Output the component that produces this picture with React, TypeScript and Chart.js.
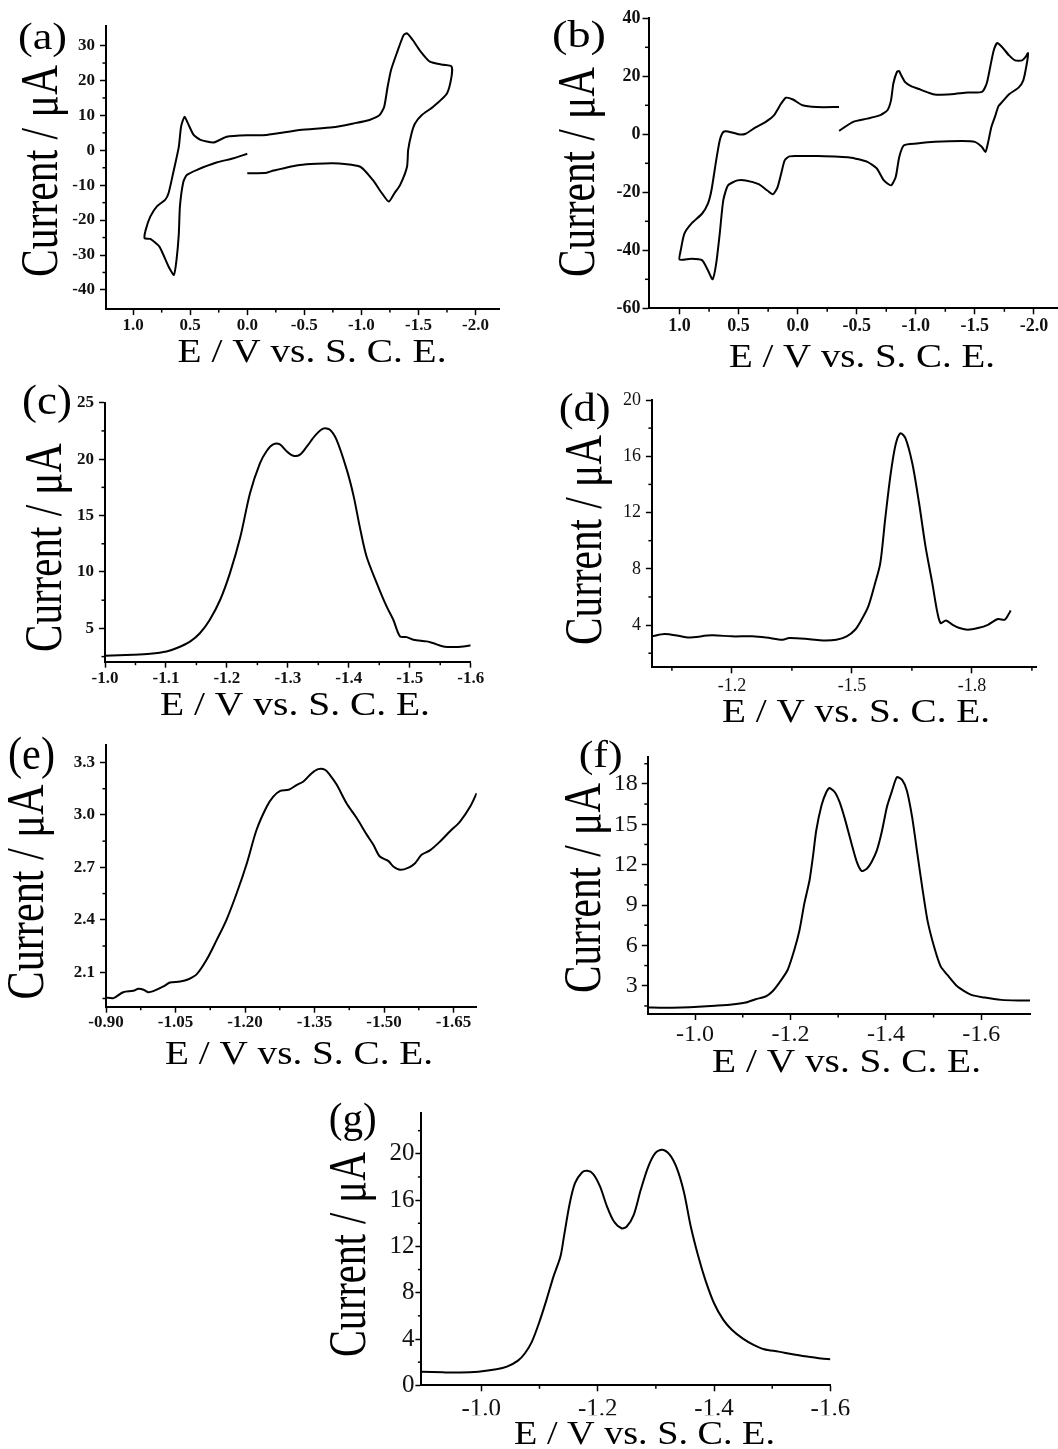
import React, { useEffect, useRef } from "react";
import { Chart, registerables } from "chart.js";

Chart.register(...registerables);

const SERIF = '"Liberation Serif", "Times New Roman", Times, serif';

// ---------- (a) cyclic voltammogram ----------
const cvA_E = [0.0, 0.12, 0.27, 0.44, 0.53, 0.56, 0.59, 0.60, 0.62, 0.643, 0.69, 0.77, 0.85, 0.90, 0.89, 0.85, 0.79, 0.72, 0.69, 0.65, 0.60, 0.58, 0.55, 0.52, 0.47, 0.41, 0.30, 0.24, 0.18, 0.0, -0.17, -0.46, -0.75, -0.93, -1.07, -1.16, -1.20, -1.23, -1.26, -1.31, -1.37, -1.40, -1.45, -1.51, -1.60, -1.72, -1.79, -1.79, -1.75, -1.63, -1.53, -1.47, -1.44, -1.41, -1.40, -1.34, -1.29, -1.24, -1.18, -1.10, -0.99, -0.75, -0.46, -0.23, -0.17, 0.0];
const cvA_I = [-1.0, -2.3, -3.5, -5.6, -7.1, -9.0, -16, -24, -31.4, -35.7, -33.3, -27.6, -25.4, -25.2, -22.8, -19, -16, -14.2, -12.3, -6.6, 1.0, 6.8, 9.6, 7.7, 4.4, 3.0, 2.2, 3.0, 3.9, 4.3, 4.4, 5.8, 6.6, 7.7, 8.7, 10.1, 12.5, 18.2, 23, 27.8, 33, 33.5, 31.6, 28.7, 25.4, 24.5, 24, 21.1, 16.3, 12.5, 10.1, 7.7, 4.9, 0.1, -4.7, -9.9, -12.3, -14.7, -12.3, -8.5, -4.7, -3.7, -4.2, -5.8, -6.4, -6.6];
const ticksA_x = [1.0, 0.5, 0.0, -0.5, -1.0, -1.5, -2.0];
const ticksA_y = [30, 20, 10, 0, -10, -20, -30, -40];

// ---------- (b) cyclic voltammogram ----------
const cvB_E = [-0.351, -0.47, -0.59, -0.70, -0.76, -0.79, -0.81, -0.84, -0.86, -0.87, -0.91, -0.96, -1.04, -1.16, -1.30, -1.44, -1.56, -1.60, -1.63, -1.66, -1.69, -1.73, -1.79, -1.84, -1.90, -1.93, -1.95, -1.94, -1.91, -1.87, -1.79, -1.73, -1.70, -1.67, -1.64, -1.61, -1.59, -1.56, -1.50, -1.39, -1.16, -1.01, -0.90, -0.86, -0.83, -0.79, -0.73, -0.67, -0.59, -0.44, -0.16, -0.01, 0.07, 0.11, 0.14, 0.17, 0.21, 0.26, 0.33, 0.44, 0.51, 0.59, 0.63, 0.66, 0.69, 0.72, 0.76, 0.81, 0.90, 1.00, 0.99, 0.96, 0.90, 0.81, 0.76, 0.73, 0.69, 0.66, 0.63, 0.59, 0.50, 0.44, 0.36, 0.27, 0.20, 0.14, 0.10, 0.04, -0.04, -0.16, -0.35];
const cvB_I = [1.2, 4.3, 5.4, 6.6, 8.3, 11.7, 17.5, 21.5, 21.8, 20.9, 18.0, 16.6, 15.4, 13.7, 13.8, 14.4, 14.6, 17.5, 23.2, 29.0, 31.5, 30.1, 27.2, 25.5, 25.5, 26.7, 28.0, 24.4, 18.6, 16.1, 13.8, 11.1, 9.7, 6.0, 2.5, -3.2, -6.1, -4.4, -2.6, -2.3, -2.6, -3.2, -3.8, -7.8, -14.7, -17.6, -15.9, -11.8, -9.5, -8.0, -7.5, -7.5, -7.6, -9.0, -13.6, -18.2, -20.7, -19.3, -17.2, -15.9, -15.9, -17.6, -22.8, -34.3, -44.6, -50.0, -46.9, -43.4, -42.9, -43.2, -40.0, -34.3, -30.8, -27.4, -23.9, -19.3, -9.0, -2.1, 0.8, 1.0, 0.0, 0.2, 2.3, 4.3, 6.6, 10.6, 12.6, 12.0, 10.0, 9.4, 9.4];
const ticksB_x = [1.0, 0.5, 0.0, -0.5, -1.0, -1.5, -2.0];
const ticksB_y = [40, 20, 0, -20, -40, -60];

// ---------- (c) differential pulse voltammogram ----------
const dpC_E = [-1.0, -1.046, -1.074, -1.101, -1.118, -1.14, -1.156, -1.172, -1.189, -1.205, -1.222, -1.238, -1.254, -1.265, -1.276, -1.287, -1.298, -1.309, -1.32, -1.331, -1.345, -1.358, -1.369, -1.38, -1.397, -1.408, -1.418, -1.429, -1.446, -1.462, -1.473, -1.484, -1.495, -1.506, -1.528, -1.538, -1.555, -1.572, -1.588, -1.6];
const dpC_I = [2.58, 2.67, 2.76, 2.96, 3.26, 3.85, 4.59, 5.77, 7.54, 9.9, 13.1, 17.0, 19.6, 20.7, 21.3, 21.3, 20.7, 20.3, 20.4, 21.1, 22.1, 22.7, 22.6, 21.7, 19.0, 16.7, 14.0, 11.4, 9.0, 6.95, 5.77, 4.3, 4.23, 4.0, 3.85, 3.7, 3.4, 3.35, 3.4, 3.5];
const ticksC_x = [-1.0, -1.1, -1.2, -1.3, -1.4, -1.5, -1.6];
const ticksC_y = [5, 10, 15, 20, 25];

// ---------- (d) differential pulse voltammogram ----------
const dpD_E = [-1.0, -1.032, -1.066, -1.091, -1.150, -1.200, -1.251, -1.285, -1.327, -1.343, -1.394, -1.428, -1.461, -1.487, -1.508, -1.524, -1.541, -1.558, -1.571, -1.583, -1.596, -1.609, -1.621, -1.634, -1.651, -1.668, -1.684, -1.701, -1.714, -1.722, -1.735, -1.752, -1.769, -1.790, -1.815, -1.840, -1.865, -1.882, -1.891, -1.897];
const dpD_I = [3.2, 3.36, 3.24, 3.12, 3.27, 3.2, 3.2, 3.12, 2.96, 3.08, 3.0, 2.91, 2.96, 3.2, 3.67, 4.38, 5.33, 6.98, 8.4, 11.48, 14.56, 16.8, 17.63, 17.28, 15.5, 12.66, 9.59, 6.98, 4.85, 4.14, 4.33, 4.02, 3.79, 3.67, 3.79, 4.02, 4.43, 4.38, 4.73, 5.04];
const ticksD_x = [-1.2, -1.5, -1.8];
const ticksD_y = [4, 8, 12, 16, 20];

// ---------- (e) differential pulse voltammogram ----------
const dpE_E = [-0.9, -0.916, -0.937, -0.959, -0.97, -0.981, -0.991, -1.002, -1.024, -1.038, -1.06, -1.078, -1.096, -1.117, -1.139, -1.16, -1.182, -1.204, -1.225, -1.247, -1.261, -1.276, -1.294, -1.312, -1.326, -1.344, -1.358, -1.373, -1.383, -1.398, -1.419, -1.441, -1.463, -1.477, -1.491, -1.509, -1.52, -1.535, -1.553, -1.567, -1.581, -1.599, -1.621, -1.642, -1.664, -1.686, -1.7];
const dpE_I = [1.956, 1.952, 1.986, 1.994, 2.005, 2.0, 1.986, 1.992, 2.019, 2.041, 2.047, 2.06, 2.089, 2.171, 2.285, 2.4, 2.552, 2.724, 2.915, 3.048, 3.105, 3.138, 3.144, 3.172, 3.191, 3.239, 3.262, 3.258, 3.229, 3.172, 3.067, 2.982, 2.886, 2.829, 2.762, 2.737, 2.705, 2.686, 2.699, 2.724, 2.772, 2.797, 2.848, 2.905, 2.962, 3.048, 3.125];
const ticksE_x = [-0.9, -1.05, -1.2, -1.35, -1.5, -1.65];
const ticksE_y = [2.1, 2.4, 2.7, 3.0, 3.3];

// ---------- (f) differential pulse voltammogram ----------
const dpF_E = [-0.901, -0.936, -0.971, -1.007, -1.042, -1.077, -1.106, -1.127, -1.148, -1.162, -1.176, -1.194, -1.208, -1.219, -1.229, -1.24, -1.247, -1.254, -1.265, -1.275, -1.282, -1.293, -1.303, -1.314, -1.328, -1.339, -1.349, -1.36, -1.37, -1.381, -1.392, -1.402, -1.413, -1.423, -1.434, -1.444, -1.455, -1.466, -1.476, -1.487, -1.501, -1.515, -1.529, -1.55, -1.579, -1.607, -1.642, -1.677, -1.702];
const dpF_I = [1.38, 1.36, 1.38, 1.43, 1.51, 1.6, 1.75, 2.0, 2.2, 2.57, 3.19, 4.17, 5.65, 7.14, 9.1, 10.84, 12.57, 14.54, 16.4, 17.38, 17.7, 17.38, 16.64, 15.4, 13.56, 12.2, 11.53, 11.7, 12.2, 13.06, 14.54, 16.27, 17.5, 18.5, 18.3, 17.5, 15.53, 12.8, 10.35, 7.88, 5.9, 4.42, 3.8, 2.94, 2.32, 2.12, 1.95, 1.9, 1.9];
const ticksF_x = [-1.0, -1.2, -1.4, -1.6];
const ticksF_y = [3, 6, 9, 12, 15, 18];

// ---------- (g) differential pulse voltammogram ----------
const dpG_E = [-0.897, -0.934, -0.964, -0.995, -1.026, -1.044, -1.063, -1.075, -1.087, -1.099, -1.112, -1.124, -1.136, -1.142, -1.152, -1.161, -1.173, -1.182, -1.192, -1.204, -1.216, -1.228, -1.241, -1.25, -1.262, -1.274, -1.287, -1.299, -1.311, -1.324, -1.336, -1.348, -1.36, -1.373, -1.385, -1.4, -1.416, -1.431, -1.449, -1.468, -1.486, -1.511, -1.535, -1.56, -1.584, -1.6];
const dpG_I = [1.18, 1.12, 1.1, 1.18, 1.38, 1.61, 2.13, 2.77, 3.78, 5.36, 7.38, 9.39, 11.12, 12.85, 15.73, 17.46, 18.39, 18.53, 18.27, 17.18, 15.45, 14.15, 13.57, 13.72, 14.73, 16.89, 18.9, 20.06, 20.35, 19.91, 18.76, 16.74, 13.72, 11.12, 9.11, 7.09, 5.65, 4.78, 4.06, 3.49, 3.11, 2.91, 2.68, 2.48, 2.31, 2.25];
const ticksG_x = [-1.0, -1.2, -1.4, -1.6];
const ticksG_y = [0, 4, 8, 12, 16, 20];

const Y_TITLE = "Current / \u03BCA";
const X_TITLE = "E / V vs. S. C. E.";

type Panel = {
  key: string;
  label: string;
  E: number[];
  I: number[];
  xTicks: number[];
  yTicks: number[];
  xMinorStep: number;
  yMinorStep: number;
  xDigits: number;
  yDigits: number;
  xRange: [number, number];
  yRange: [number, number];
  box: [number, number, number, number]; // canvas left, top, width, height
  plot: [number, number, number, number]; // plot area left, top, right, bottom
  tickSize: number;
  tickWeight: string;
  xPad: number;
  yPad: number;
  labelAt: [number, number, number, number]; // cx, cy, width, font size
  yTitleAt: [number, number, number];
  xTitleAt: [number, number, number];
  tension: number;
};

const PANELS: Panel[] = [
  {
    key: "a", label: "(a)", E: cvA_E, I: cvA_I, xTicks: ticksA_x, yTicks: ticksA_y,
    xMinorStep: 0.25, yMinorStep: 5, xDigits: 1, yDigits: 0,
    xRange: [-2.206, 1.238], yRange: [-45.5, 35.5],
    box: [0, 0, 529, 375], plot: [106, 26.4, 499, 309.1],
    tickSize: 17, tickWeight: "bold", xPad: 0, yPad: 5,
    labelAt: [42.5, 39, 49, 38], yTitleAt: [45, 171, 212], xTitleAt: [312, 351, 269], tension: 0.2,
  },
  {
    key: "b", label: "(b)", E: cvB_E, I: cvB_I, xTicks: ticksB_x, yTicks: ticksB_y,
    xMinorStep: 0.25, yMinorStep: 10, xDigits: 1, yDigits: 0,
    xRange: [-2.204, 1.263], yRange: [-60, 40],
    box: [529, 0, 529, 375], plot: [648.5, 18.3, 1058, 308.3],
    tickSize: 18, tickWeight: "bold", xPad: 1, yPad: 2,
    labelAt: [579, 37, 54, 38], yTitleAt: [582, 172, 210], xTitleAt: [862, 356, 266], tension: 0.2,
  },
  {
    key: "c", label: "(c)", E: dpC_E, I: dpC_I, xTicks: ticksC_x, yTicks: ticksC_y,
    xMinorStep: 0.05, yMinorStep: 2.5, xDigits: 1, yDigits: 0,
    xRange: [-1.6, -1.0], yRange: [2.05, 25],
    box: [0, 375, 529, 350], plot: [105, 402.7, 470.7, 661.7],
    tickSize: 17, tickWeight: "bold", xPad: 1, yPad: 5,
    labelAt: [47, 403.5, 50, 42], yTitleAt: [49, 547.5, 209], xTitleAt: [295, 704, 270], tension: 0.3,
  },
  {
    key: "d", label: "(d)", E: dpD_E, I: dpD_I, xTicks: ticksD_x, yTicks: ticksD_y,
    xMinorStep: 0.15, yMinorStep: 2, xDigits: 1, yDigits: 0,
    xRange: [-1.962, -1.0], yRange: [1, 20],
    box: [529, 375, 529, 350], plot: [651.9, 400, 1036.7, 667.3],
    tickSize: 18, tickWeight: "normal", xPad: 2, yPad: 5,
    labelAt: [584.7, 410.5, 52, 40], yTitleAt: [589, 540, 210], xTitleAt: [856, 711, 268], tension: 0.3,
  },
  {
    key: "e", label: "(e)", E: dpE_E, I: dpE_I, xTicks: ticksE_x, yTicks: ticksE_y,
    xMinorStep: 0.075, yMinorStep: 0.15, xDigits: 2, yDigits: 1,
    xRange: [-1.7, -0.9], yRange: [1.903, 3.4],
    box: [0, 725, 529, 365], plot: [106, 745, 476.7, 1006.7],
    tickSize: 17, tickWeight: "bold", xPad: 0, yPad: 5,
    labelAt: [31.5, 757.5, 47, 46], yTitleAt: [31, 892, 215], xTitleAt: [299, 1053, 268], tension: 0.3,
  },
  {
    key: "f", label: "(f)", E: dpF_E, I: dpF_I, xTicks: ticksF_x, yTicks: ticksF_y,
    xMinorStep: 0.1, yMinorStep: 1.5, xDigits: 1, yDigits: 0,
    xRange: [-1.702, -0.901], yRange: [0.9, 20],
    box: [529, 725, 529, 365], plot: [647.8, 757, 1030, 1014],
    tickSize: 24, tickWeight: "normal", xPad: 0, yPad: 4,
    labelAt: [600.7, 757, 44, 38], yTitleAt: [588, 888, 210], xTitleAt: [846.5, 1061.5, 269], tension: 0.2,
  },
  {
    key: "g", label: "(g)", E: dpG_E, I: dpG_I, xTicks: ticksG_x, yTicks: ticksG_y,
    xMinorStep: 0.1, yMinorStep: 2, xDigits: 1, yDigits: 0,
    xRange: [-1.6, -0.897], yRange: [0, 23.5],
    box: [300, 1090, 560, 359], plot: [421.4, 1113.3, 830.4, 1385.3],
    tickSize: 25, tickWeight: "normal", xPad: 3, yPad: 1,
    labelAt: [352.7, 1121.5, 48, 42], yTitleAt: [353.5, 1254.5, 205], xTitleAt: [644.5, 1433, 261], tension: 0.3,
  },
];

const Y_AXIS_W = 40;
const X_AXIS_H = 30;
const MAJOR_LEN = 6;
const MINOR_LEN = 3.5;

function fmt(v: number, digits: number): string {
  const s = v.toFixed(digits);
  return s.startsWith("-") && parseFloat(s) === 0 ? s.slice(1) : s;
}

function minorValues(step: number, lo: number, hi: number, majors: number[]): number[] {
  const out: number[] = [];
  const start = Math.ceil(lo / step - 1e-9);
  const end = Math.floor(hi / step + 1e-9);
  for (let k = start; k <= end; k++) {
    const v = +(k * step).toFixed(6);
    if (majors.some((m) => Math.abs(m - v) < step * 1e-3)) continue;
    out.push(v);
  }
  return out;
}

// Draws text centred at (cx, cy), stretched along its run to a given length.
function drawFitted(
  ctx: CanvasRenderingContext2D,
  text: string,
  cx: number,
  cy: number,
  length: number,
  size: number,
  riseEm: number,
  rotated: boolean
) {
  ctx.save();
  ctx.font = `${size}px ${SERIF}`;
  const w = ctx.measureText(text).width;
  ctx.translate(cx, cy);
  if (rotated) ctx.rotate(-Math.PI / 2);
  ctx.scale(length / w, 1);
  ctx.fillStyle = "#000";
  ctx.textAlign = "center";
  ctx.textBaseline = "alphabetic";
  ctx.fillText(text, 0, riseEm * size);
  ctx.restore();
}

function PanelChart({ p }: { p: Panel }) {
  const ref = useRef<HTMLCanvasElement>(null);

  useEffect(() => {
    const canvas = ref.current;
    if (!canvas) return;
    const [bx, by, bw, bh] = p.box;
    const [x0, y0, x1, y1] = p.plot;

    const xMinor = minorValues(p.xMinorStep, p.xRange[0], p.xRange[1], p.xTicks);
    const yMinor = minorValues(p.yMinorStep, p.yRange[0], p.yRange[1], p.yTicks);

    const decor = {
      id: "decor_" + p.key,
      afterDraw(chart: any) {
        const ctx: CanvasRenderingContext2D = chart.ctx;
        const area = chart.chartArea;
        const xs = chart.scales.x;
        const ys = chart.scales.y;
        ctx.save();
        ctx.strokeStyle = "#000";
        ctx.lineWidth = 1.5;
        xMinor.forEach((v) => {
          const px = xs.getPixelForValue(v);
          if (px < area.left + 2 || px > area.right - 2) return;
          ctx.beginPath();
          ctx.moveTo(px, area.bottom);
          ctx.lineTo(px, area.bottom + MINOR_LEN);
          ctx.stroke();
        });
        yMinor.forEach((v) => {
          const py = ys.getPixelForValue(v);
          if (py < area.top + 2 || py > area.bottom - 2) return;
          ctx.beginPath();
          ctx.moveTo(area.left, py);
          ctx.lineTo(area.left - MINOR_LEN, py);
          ctx.stroke();
        });
        ctx.restore();

        const [lx, ly, lw, ls] = p.labelAt;
        drawFitted(ctx, p.label, lx - bx, ly - by, lw, ls, 0.257, false);
        const [tx, ty, tl] = p.yTitleAt;
        drawFitted(ctx, Y_TITLE, tx - bx, ty - by, tl, 52, 0.23, true);
        const [sx, sy, sl] = p.xTitleAt;
        drawFitted(ctx, X_TITLE, sx - bx, sy - by, sl, 33, 0.33, false);
      },
    };

    const tickFont = { family: SERIF, size: p.tickSize, weight: p.tickWeight as any };

    const chart = new Chart(canvas, {
      type: "scatter",
      data: {
        datasets: [
          {
            data: p.E.map((e, i) => ({ x: e, y: p.I[i] })),
            showLine: true,
            borderColor: "#000",
            borderWidth: 2,
            pointRadius: 0,
            pointHoverRadius: 0,
            fill: false,
            tension: p.tension,
          },
        ],
      },
      options: {
        animation: false,
        responsive: false,
        maintainAspectRatio: false,
        devicePixelRatio: 1,
        events: [],
        layout: {
          padding: {
            left: x0 - bx - Y_AXIS_W,
            top: y0 - by,
            right: bx + bw - x1,
            bottom: by + bh - y1 - X_AXIS_H,
          },
        },
        plugins: {
          legend: { display: false },
          tooltip: { enabled: false },
          title: { display: false },
        },
        scales: {
          x: {
            type: "linear",
            position: "bottom",
            min: p.xRange[0],
            max: p.xRange[1],
            reverse: true,
            afterBuildTicks: (s: any) => {
              s.ticks = p.xTicks.map((v) => ({ value: v }));
            },
            afterFit: (s: any) => {
              s.height = X_AXIS_H;
              s.paddingLeft = 0;
              s.paddingRight = 0;
              s.paddingTop = 0;
              s.paddingBottom = 0;
            },
            grid: {
              display: true,
              drawOnChartArea: false,
              drawTicks: true,
              tickLength: MAJOR_LEN,
              tickWidth: 1.5,
              tickColor: "#000",
            },
            border: { display: true, color: "#000", width: 2 },
            ticks: {
              color: "#111",
              font: tickFont,
              padding: p.xPad,
              maxRotation: 0,
              autoSkip: false,
              callback: (v: any) => fmt(Number(v), p.xDigits),
            },
          },
          y: {
            type: "linear",
            position: "left",
            min: p.yRange[0],
            max: p.yRange[1],
            afterBuildTicks: (s: any) => {
              s.ticks = p.yTicks.map((v) => ({ value: v }));
            },
            afterFit: (s: any) => {
              s.width = Y_AXIS_W;
              s.paddingLeft = 0;
              s.paddingRight = 0;
              s.paddingTop = 0;
              s.paddingBottom = 0;
            },
            grid: {
              display: true,
              drawOnChartArea: false,
              drawTicks: true,
              tickLength: MAJOR_LEN,
              tickWidth: 1.5,
              tickColor: "#000",
            },
            border: { display: true, color: "#000", width: 2 },
            ticks: {
              color: "#111",
              font: tickFont,
              padding: p.yPad,
              autoSkip: false,
              callback: (v: any) => fmt(Number(v), p.yDigits),
            },
          },
        },
      } as any,
      plugins: [decor],
    });

    return () => chart.destroy();
  }, [p]);

  const [bx, by, bw, bh] = p.box;
  return (
    <canvas
      ref={ref}
      width={bw}
      height={bh}
      style={{ position: "absolute", left: bx, top: by, width: bw, height: bh }}
    />
  );
}

export default function App() {
  return (
    <div
      style={{
        position: "absolute",
        left: 0,
        top: 0,
        width: 1058,
        height: 1449,
        background: "#fff",
        overflow: "hidden",
      }}
    >
      {PANELS.map((p) => (
        <PanelChart key={p.key} p={p} />
      ))}
    </div>
  );
}
